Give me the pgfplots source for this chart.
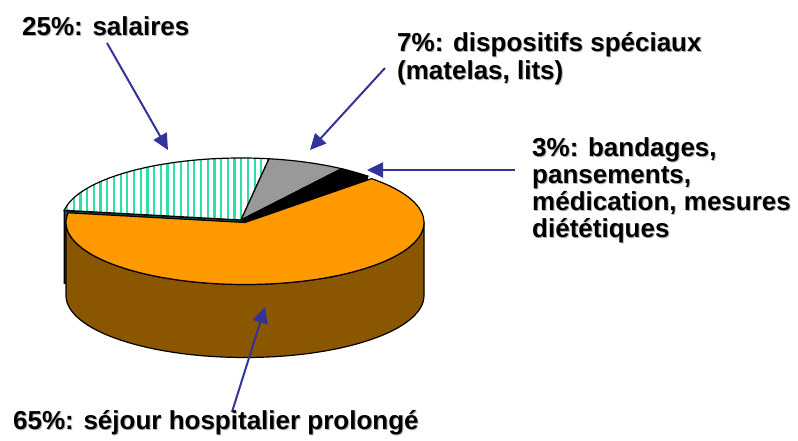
\documentclass[border=0pt]{standalone}
\usepackage{pgfplots}
\pgfplotsset{compat=1.18}
\usepackage{pgfplotstable}
\usepackage{fontspec}
\setmainfont{Liberation Sans}
\usetikzlibrary{arrows.meta,patterns.meta}
\definecolor{pieorange}{HTML}{FF9900}
\definecolor{piebrown}{HTML}{8A5600}
\definecolor{pieteal}{HTML}{004D4D}
\definecolor{piegray}{HTML}{999999}
\definecolor{piestripe}{HTML}{2EE0A8}
\definecolor{arrowblue}{HTML}{333399}

\pgfplotstableread{
share label
25 salaires
7 dispositifs
3 bandages
65 sejour
}\piedata

\newcommand{\lbl}[3]{%
  \node[anchor=base west,text=black!30,inner sep=0pt] at (axis cs:{#1+1},{#2-1}) {\fontsize{26}{28}\selectfont\bfseries #3};
  \node[anchor=base west,text=black,inner sep=0pt] at (axis cs:#1,#2) {\fontsize{26}{28}\selectfont\bfseries #3};
}

\begin{document}
\begin{tikzpicture}
\pgfplotstablegetelem{0}{share}\of\piedata \let\vA\pgfplotsretval
\pgfplotstablegetelem{1}{share}\of\piedata \let\vB\pgfplotsretval
\pgfplotstablegetelem{2}{share}\of\piedata \let\vC\pgfplotsretval
\pgfplotstablegetelem{3}{share}\of\piedata \let\vD\pgfplotsretval
\pgfmathsetmacro\tA{171}
\pgfmathsetmacro\tB{\tA-3.6*\vA}
\pgfmathsetmacro\tC{\tB-3.6*\vB}
\pgfmathsetmacro\tD{\tC-3.6*\vC}
\pgfmathsetmacro\tE{\tD-3.6*\vD}
\def\cx{241}\def\cy{221}\def\ra{179}\def\rb{62}\def\h{73}
\def\dx{4}\def\dy{-2.5}
\begin{axis}[
  anchor=south west, at={(0,0)},
  scale only axis, width=798pt, height=441pt,
  xmin=0, xmax=798, ymin=0, ymax=441,
  hide axis, clip=false]
% radial face of striped slice (visible because orange is exploded)
\filldraw[fill=pieteal,draw=black,line width=1.2pt]
  (axis cs:\cx,\cy) -- (axis cs:{\cx+\ra*cos(\tA)},{\cy+\rb*sin(\tA)})
  -- (axis cs:{\cx+\ra*cos(\tA)},{\cy+\rb*sin(\tA)-\h}) -- (axis cs:\cx,{\cy-\h}) -- cycle;
% radial face of black slice
\filldraw[fill=black,draw=black,line width=1.2pt]
  (axis cs:\cx,\cy) -- (axis cs:{\cx+\ra*cos(\tD)},{\cy+\rb*sin(\tD)})
  -- (axis cs:{\cx+\ra*cos(\tD)},{\cy+\rb*sin(\tD)-\h}) -- (axis cs:\cx,{\cy-\h}) -- cycle;
% striped top
\fill[white] (axis cs:\cx,\cy) -- (axis cs:{\cx+\ra*cos(\tA)},{\cy+\rb*sin(\tA)})
  arc[start angle=\tA, end angle=\tB, x radius=\ra, y radius=\rb] -- cycle;
\fill[pattern={Lines[angle=90,distance=6.7pt,line width=2.2pt]}, pattern color=piestripe]
  (axis cs:\cx,\cy) -- (axis cs:{\cx+\ra*cos(\tA)},{\cy+\rb*sin(\tA)})
  arc[start angle=\tA, end angle=\tB, x radius=\ra, y radius=\rb] -- cycle;
\draw[line width=1.2pt] (axis cs:\cx,\cy) -- (axis cs:{\cx+\ra*cos(\tA)},{\cy+\rb*sin(\tA)})
  arc[start angle=\tA, end angle=\tB, x radius=\ra, y radius=\rb] -- cycle;
% gray top
\filldraw[fill=piegray,draw=black,line width=1.2pt] (axis cs:\cx,\cy) -- (axis cs:{\cx+\ra*cos(\tB)},{\cy+\rb*sin(\tB)})
  arc[start angle=\tB, end angle=\tC, x radius=\ra, y radius=\rb] -- cycle;
% black top
\filldraw[fill=black,draw=black,line width=1.2pt] (axis cs:\cx,\cy) -- (axis cs:{\cx+\ra*cos(\tC)},{\cy+\rb*sin(\tC)})
  arc[start angle=\tC, end angle=\tD, x radius=\ra, y radius=\rb] -- cycle;
% orange side (exploded)
\filldraw[fill=piebrown,draw=black,line width=1.2pt]
  (axis cs:{\cx+\dx-\ra},{\cy+\dy}) arc[start angle=180, end angle=360, x radius=\ra, y radius=\rb]
  -- (axis cs:{\cx+\dx+\ra},{\cy+\dy-\h}) arc[start angle=360, end angle=180, x radius=\ra, y radius=\rb] -- cycle;
% orange top
\filldraw[fill=pieorange,draw=black,line width=1.2pt] (axis cs:{\cx+\dx},{\cy+\dy}) -- (axis cs:{\cx+\dx+\ra*cos(\tD)},{\cy+\dy+\rb*sin(\tD)})
  arc[start angle=\tD, end angle=\tE, x radius=\ra, y radius=\rb] -- cycle;
% arrows
\draw[arrowblue,line width=2pt,-{Triangle[length=16pt,width=15pt]}] (axis cs:107,398) -- (axis cs:168,291);
\draw[arrowblue,line width=2pt,-{Triangle[length=16pt,width=15pt]}] (axis cs:385,373) -- (axis cs:310,291);
\draw[arrowblue,line width=2pt,-{Triangle[length=16pt,width=15pt]}] (axis cs:515,271) -- (axis cs:367,271);
\draw[arrowblue,line width=2pt,-{Triangle[length=16pt,width=15pt]}] (axis cs:232,29) -- (axis cs:265,134);
% labels
\lbl{22}{405}{25\%: salaires}
\lbl{397}{389}{7\%: dispositifs spéciaux}
\lbl{397}{361}{(matelas, lits)}
\lbl{532}{284}{3\%: bandages,}
\lbl{532}{257}{pansements,}
\lbl{532}{230}{médication, mesures}
\lbl{532}{203}{diététiques}
\lbl{13}{11}{65\%: séjour hospitalier prolongé}
\end{axis}
\pgfresetboundingbox
\path (0,0) rectangle (798pt,441pt);
\end{tikzpicture}
\end{document}
